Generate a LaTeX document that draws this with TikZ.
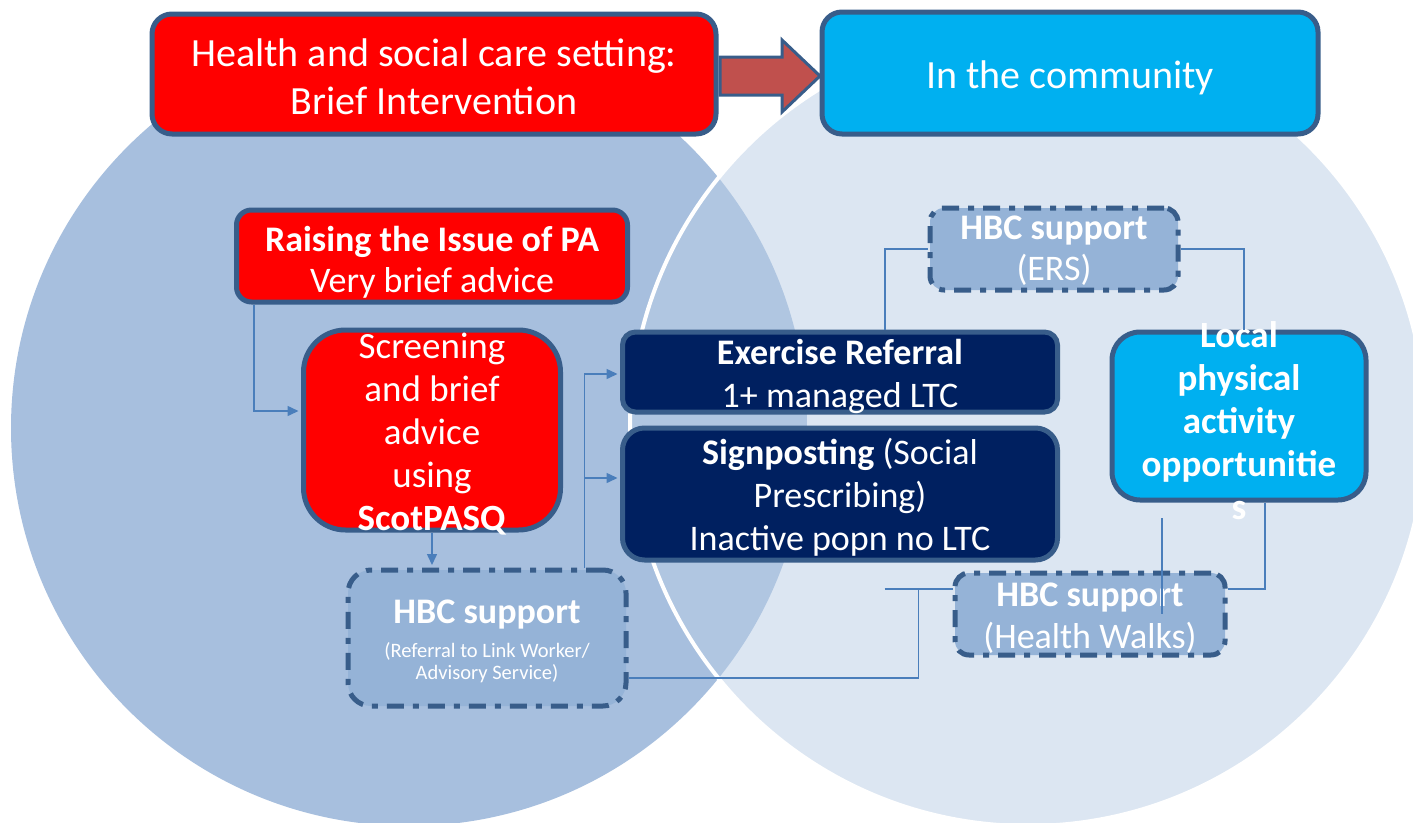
\documentclass[tikz,border=0pt]{standalone}
\usepackage{fontspec}
\setmainfont{Carlito}
\usetikzlibrary{arrows.meta, calc, positioning}

\definecolor{boxred}{HTML}{FF0000}
\definecolor{edgeblue}{HTML}{385D8A}
\definecolor{skyfill}{HTML}{00B0F0}
\definecolor{navyfill}{HTML}{002060}
\definecolor{hbcfill}{HTML}{95B3D7}
\definecolor{flowred}{HTML}{C0504D}
\definecolor{linkblue}{HTML}{4A7EBB}
\definecolor{leftdisc}{HTML}{A7BFDE}
\definecolor{rightdisc}{RGB}{185,205,229}

\begin{document}
\begin{tikzpicture}[x=1pt, y=-1pt,
    panel/.style={draw=edgeblue, line width=5pt, inner sep=0pt, rounded corners=#1},
    panel/.default=16pt,
    hbcpanel/.style={panel=#1, fill=hbcfill, dash pattern=on 17pt off 9pt on 6pt off 9pt},
    hbcpanel/.default=14pt,
    txt/.style={text=white, align=center, inner sep=0pt},
    link/.style={draw=linkblue, line width=1.5pt},
    tip/.style={-{Triangle[length=11pt, width=10pt]}, shorten >=2.5pt}]
    \clip (0,0) rectangle (1413,822);

    % Two settings as overlapping discs
    \fill[leftdisc] (409,428) circle (398);
    \draw[white, line width=4pt, fill=rightdisc, fill opacity=0.5] (1028,428) circle (398);

    % Headings
    \node[panel=20pt, fill=boxred, minimum width=564, minimum height=120] (hsc) at (434,74) {};
    \node[txt, font={\fontsize{40}{48}\selectfont}] (hsc-t) at (434,77) {Health and social care setting:\\Brief Intervention};
    \node[panel=20pt, fill=skyfill, minimum width=496, minimum height=122] (comm) at (1070,73) {};
    \node[txt, font={\fontsize{40}{48}\selectfont}] (comm-t) at (1070,78) {In the community};
    \draw[edgeblue, line width=3pt, fill=flowred, line join=miter]
        (720,57) -- (782,57) -- (782,40) -- (820,76) -- (782,112) -- (782,95) -- (720,95) -- cycle;

    % Health and social care side
    \node[panel=15pt, fill=boxred, minimum width=391, minimum height=92] (raise) at (432,256) {};
    \node[txt, font={\fontsize{36}{41}\selectfont}] (raise-t) at (432,262) {\textbf{Raising the Issue of PA}\\Very brief advice};
    \node[panel=42pt, fill=boxred, minimum width=257, minimum height=200] (scr) at (432,430) {};
    \node[txt, font={\fontsize{37}{43}\selectfont}] (scr-t) at (432,434) {Screening\\and brief\\advice\\using\\\textbf{ScotPASQ}};
    \node[hbcpanel=23pt, minimum width=278, minimum height=136] (hbcl) at (487,638) {};
    \node[txt, font={\fontsize{36}{40}\selectfont\bfseries}] (hbcl-t) at (487,615) {HBC support};
    \node[txt, font={\fontsize{20.5}{22}\selectfont}] (hbcl-s) at (487,663) {(Referral to Link Worker/\\Advisory Service)};

    % Routes
    \node[panel=13pt, fill=navyfill, minimum width=435, minimum height=80] (exer) at (840,372) {};
    \node[txt, font={\fontsize{36}{43}\selectfont}] (exer-t) at (840,376) {\textbf{Exercise Referral}\\1+ managed LTC};
    \node[panel=22pt, fill=navyfill, minimum width=435, minimum height=132] (sign) at (840,494) {};
    \node[txt, font={\fontsize{36}{43}\selectfont}] (sign-t) at (840,497) {\textbf{Signposting} (Social\\Prescribing)\\Inactive popn no LTC};

    % Community side
    \node[hbcpanel, minimum width=248, minimum height=82] (ers) at (1054,249) {};
    \node[txt, font={\fontsize{36}{41}\selectfont}] (ers-t) at (1054,251) {\textbf{HBC support}\\(ERS)};
    \node[panel=28pt, fill=skyfill, minimum width=254, minimum height=168] (local) at (1239,416) {};
    \node[txt, font={\fontsize{37}{43}\selectfont\bfseries}] (local-t) at (1239,421) {Local\\physical\\activity\\opportunitie\\s};
    \node[hbcpanel, minimum width=270, minimum height=82] (walks) at (1090,614) {};
    \node[txt, font={\fontsize{36}{42}\selectfont}] (walks-t) at (1090,618) {\textbf{HBC support}\\(Health Walks)};

    % Connectors
    \draw[link, tip] ($(raise.south west)+(20,0)$) |- ($(scr.west)+(0,-19)$);
    \draw[link, tip] (scr.south) -- (scr.south |- hbcl.north);
    \coordinate (fork) at ($(hbcl.north east)+(-44,0)$);
    \draw[link, tip] (fork) |- ($(exer.west)+(0,2)$);
    \draw[link, tip] (fork) |- ($(sign.west)+(0,-16)$);
    \coordinate (wl) at ($(walks.west)+(0,-25)$);
    \draw[link] ($(hbcl.east)+(0,40)$) -| ($(wl)+(-34,0)$);
    \draw[link] ($(wl)+(-68,0)$) -- (wl);
    \draw[link] ($(exer.north west)+(265,0)$) |- (ers.west);
    \draw[link] (ers.east) -| ($(local.north)+(5,0)$);
    \draw[link] ($(local.south)+(26,0)$) |- ($(walks.east)+(0,-25)$);
    \coordinate (drop) at (1162,518);
    \draw[link] (drop) -- (drop |- walks.center);
\end{tikzpicture}
\end{document}
